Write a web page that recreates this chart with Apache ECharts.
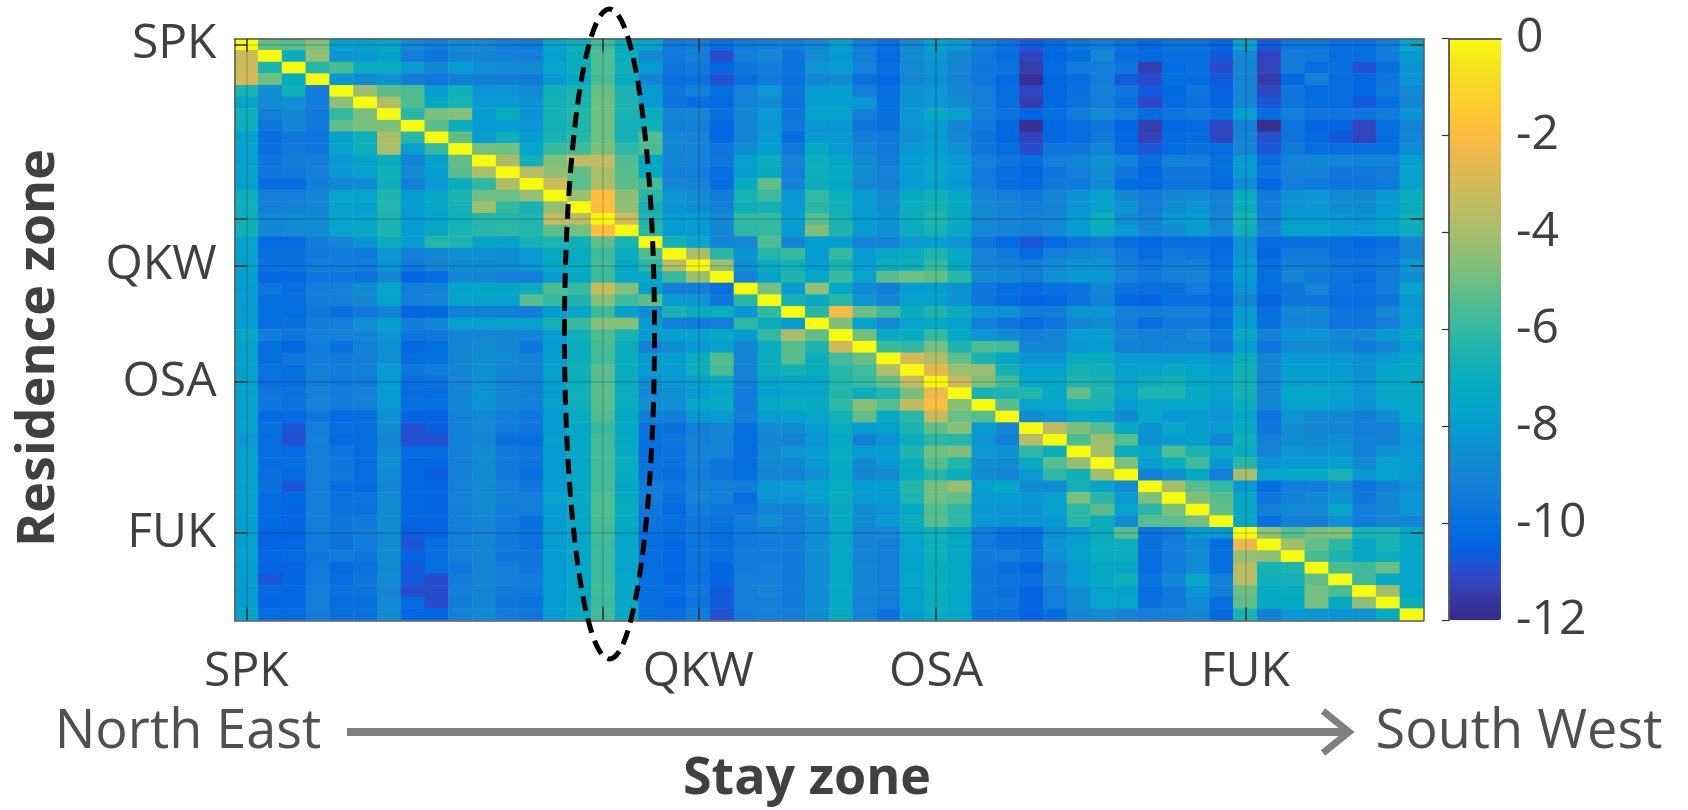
<!DOCTYPE html>
<html><head><meta charset="utf-8"><title>Residence zone vs stay zone</title>
<style>html,body{margin:0;padding:0;background:#fff}#c{width:1688px;height:810px}</style>
<script src="https://cdn.jsdelivr.net/npm/echarts@6/dist/echarts.min.js"></script></head><body><div id="c"></div><script>
const tickIndex=[0,15,19,29,42];
const tickLabels=['SPK','','QKW','OSA','FUK'];
const colorTicks=[-12,-10,-8,-6,-4,-2,0];
const r00=[0,-5.2,-5.3,-4.7,-7.8,-7.8,-7.5,-8.8,-9.4,-8.8,-8.9,-9.4,-9.5,-7.6,-6.9,-5.7,-7.2,-7.6,-9.5,-9.4,-10,-9.5,-9.3,-9.4,-9,-7.8,-9.4,-10,-8.8,-7.7,-8.1,-9.4,-9.9,-10.7,-10.2,-9.7,-9.4,-9.9,-10.3,-9.9,-9.9,-10.4,-7.7,-10.7,-9.6,-9.6,-10,-10,-9.4,-7.6];
const r01=[-3.2,0,-7.1,-4.4,-8.3,-8.2,-7.7,-9.4,-9.7,-9,-8.9,-9.2,-9.3,-7.8,-7,-5.5,-7,-8.8,-9.5,-9.2,-11,-9.2,-8.9,-9.7,-8.7,-8.2,-9.3,-10.2,-8.7,-8.2,-8.8,-9.5,-10.1,-11.2,-10.3,-10,-8.9,-10,-10.2,-10,-10,-10.7,-8.8,-11.2,-9.4,-9.5,-10,-10,-9.4,-8];
const r02=[-3.2,-6.5,0,-6.3,-5.6,-7.1,-7.1,-8.1,-8.9,-8,-8.5,-8.7,-8.7,-7.6,-7,-5.5,-6.8,-8,-9.7,-9.5,-10.3,-9.7,-9.4,-9.8,-8.3,-8,-9.1,-10,-8.8,-8.3,-9,-9.6,-9.8,-11.4,-10.2,-9.4,-9.3,-9.6,-11.4,-10.2,-10,-11,-8.9,-11.2,-9.4,-10.1,-9.9,-10.9,-9.9,-8.4];
const r03=[-2.9,-5,-7.2,0,-8.2,-8.7,-8.4,-9.3,-9.6,-9.2,-9.3,-9.4,-9.5,-8,-7.3,-5.6,-7.2,-9,-9.9,-9.8,-10.9,-9.9,-9.5,-9.9,-8.8,-8.7,-9.8,-10.3,-8.9,-8.5,-9.1,-9.6,-10.2,-11.8,-10.3,-10,-9.3,-10.7,-11,-10.1,-10.1,-10.7,-8.9,-11.5,-10.3,-9.2,-10,-10.3,-9.6,-8.3];
const r04=[-6.6,-8.6,-6.8,-9.4,0,-4.2,-5.3,-5.5,-8,-6.8,-8.3,-8.3,-8.7,-6.8,-6.6,-5.1,-6.5,-8,-9.6,-9.2,-10,-9.1,-8.1,-9.7,-8,-7.9,-9.3,-10,-8.4,-8.2,-8.9,-9.3,-10.1,-11.1,-10.3,-9.9,-9.2,-9.6,-10.7,-10.3,-9.7,-10.5,-8.9,-11.1,-9.6,-10.2,-10,-10.3,-9.5,-8.8];
const r05=[-7.5,-8.7,-8.5,-9.4,-4.5,0,-3.8,-5.5,-7.3,-6.6,-8.1,-8,-8.5,-6.7,-6.5,-5,-6.5,-8.1,-9.8,-10,-10.2,-9.1,-8.7,-9.8,-7.9,-7.9,-8.2,-10,-8.4,-8.2,-8.7,-9.3,-10,-11.4,-10.3,-9.8,-9.3,-9.9,-11.1,-10.2,-9.8,-10.5,-8.9,-10.8,-9.7,-10.1,-10,-10.7,-10,-8.9];
const r06=[-6.8,-9.2,-8.9,-9.5,-6,-4.8,0,-6.2,-4.8,-4.6,-8,-7,-8.4,-6.7,-6.3,-5,-6.6,-7,-9,-8.9,-9.9,-8.9,-8.1,-9.6,-7.7,-7.7,-9.2,-9.9,-8.2,-7.2,-7.8,-9.2,-9.8,-10.4,-10,-9.4,-8.7,-9.3,-10.1,-9.7,-9.5,-9.9,-7.8,-10.1,-9.3,-9.6,-9.7,-9.7,-9.4,-8.3];
const r07=[-6.9,-9.6,-8.9,-9.5,-5.2,-4.8,-4.8,0,-5.3,-7,-8.1,-8,-8.3,-6.7,-6.4,-5,-6.7,-6.8,-9.2,-9.2,-10.3,-9,-8.2,-9.5,-8.3,-8.2,-9.7,-9.9,-8.3,-7.9,-8.9,-9.5,-10.3,-11.8,-10.3,-10,-9.6,-10.4,-11.4,-10.3,-10.2,-11.1,-9.2,-11.9,-9.7,-10.4,-10.4,-11.2,-10.1,-9.1];
const r08=[-7.8,-9.9,-9.6,-9.6,-7.6,-6.9,-3.8,-6.2,0,-5.2,-7.9,-6.9,-8,-6.6,-6.2,-5,-6.7,-5.5,-8.8,-9.1,-10.3,-9,-8,-10,-8.1,-8.1,-9.3,-9.5,-8.5,-8,-8.8,-9.7,-10.3,-11.2,-10.3,-10,-9.5,-10.3,-11.3,-10.2,-10.1,-11.1,-9.1,-10.9,-9.7,-10.2,-10.7,-11.2,-10.1,-9];
const r09=[-7.8,-9.9,-9.5,-9.6,-7.7,-6.9,-3.9,-7.8,-6,0,-4.9,-5,-7.6,-5.9,-5.8,-4.8,-6.1,-5.6,-9,-9.1,-9.7,-8.6,-7.9,-9.5,-7.3,-8,-9.1,-9.5,-8.2,-7.9,-8.5,-9.6,-10.1,-11,-9.7,-9.6,-9,-10.2,-10.8,-10.2,-9.9,-10.1,-9,-10.8,-9.5,-10.1,-10.1,-10,-10,-8.6];
const r10=[-7.8,-9.6,-9.4,-9.3,-8.2,-7.7,-7,-9,-7.8,-5.2,0,-3.9,-6.8,-4.7,-3.4,-3.3,-5.5,-7.4,-9,-9.1,-9.6,-7.8,-7,-9.1,-6.9,-7.4,-8.7,-9.3,-8,-7.6,-8,-9.2,-9.7,-10,-9.2,-9.1,-8.4,-9.1,-10,-9.2,-9.3,-9.9,-7.9,-10,-9.1,-9,-9,-9.1,-9.1,-7.8];
const r11=[-7.8,-9.6,-9.5,-9.3,-8.2,-7.8,-6.8,-8.7,-7.9,-5.3,-3.9,0,-3.6,-4.4,-5.2,-3.9,-5.4,-7.2,-9.2,-9.3,-10,-8,-7.2,-9.2,-6.9,-7.3,-8.6,-9.1,-8,-7.6,-8.1,-9.4,-10,-10.3,-9.6,-9.3,-8.7,-9.6,-10.3,-9.6,-9.6,-10,-8.1,-9.8,-9.2,-9.2,-9.6,-9.5,-9.4,-7.7];
const r12=[-7.8,-10,-10,-9.4,-8.9,-8.6,-6.9,-9.2,-8.2,-7,-6.1,-3.8,0,-3.2,-5.3,-3.8,-5.3,-5.7,-9,-9.1,-10,-7.2,-5.2,-9,-7,-7.4,-8.9,-9.2,-8.1,-7.7,-8.2,-9.4,-10,-10.2,-9.5,-9.5,-8.7,-10,-10.2,-9.7,-9.7,-10.2,-8.6,-10.4,-9.4,-9.5,-9.7,-9.7,-9.5,-7.7];
const r13=[-6.9,-9.2,-9.2,-9,-7.6,-7.6,-6.4,-8,-7.5,-6.5,-5,-5,-4.3,0,-4.2,-1.9,-4.5,-6.2,-8.3,-8.6,-9.4,-6.6,-5.8,-8.2,-6,-6.9,-8,-8.7,-7.2,-6.8,-7.4,-9,-9.3,-9.5,-9,-8.4,-7.7,-8.9,-9.4,-8.9,-8.8,-9.2,-7.1,-9.5,-8.5,-8.3,-8.8,-8.9,-8.2,-7];
const r14=[-6.9,-9.2,-9.1,-8.9,-7.7,-7.7,-6.4,-8,-7.5,-6.7,-4.1,-6,-6.6,-4.4,0,-1.9,-4.4,-6.7,-8.4,-8.6,-9.2,-6.9,-6.7,-8.2,-6.2,-6.8,-8,-8.7,-7,-6.7,-7.2,-8.8,-9,-9.3,-9.1,-8.3,-7.7,-8.4,-9.3,-8.6,-8.3,-9.1,-7,-9.4,-8.3,-8.2,-8.6,-8.6,-8,-7];
const r15=[-6.9,-8.8,-8.6,-8.7,-7.7,-7.6,-6.5,-8,-7.6,-6.8,-6.3,-6.3,-6.4,-3.4,-3.5,-0.1,-3.2,-6.5,-8,-7.9,-8.8,-6,-6,-7.9,-5.4,-6.6,-8,-8.4,-7,-6.4,-7.2,-8.8,-9,-9.2,-9,-8,-6.9,-8.7,-9.2,-8.2,-7.9,-9,-6.6,-9.3,-8,-8,-8.2,-8.4,-7.8,-6.8];
const r16=[-6.8,-8.9,-8.7,-8.6,-7.6,-7.3,-6.5,-8,-7.4,-6.6,-6.2,-6.1,-6.3,-5.2,-4.9,-1.9,0,-6.2,-8,-8,-8.9,-6.1,-6,-8,-4.7,-6.4,-8,-8.5,-7,-6.6,-7.3,-8.8,-9,-9.2,-8.8,-8,-7.1,-8.1,-8.9,-8.7,-8,-8.8,-6.9,-9.1,-7.7,-7.8,-8,-8.1,-7.7,-7];
const r17=[-7.6,-10.2,-10.2,-9.4,-9,-8.3,-7,-8,-6.3,-6.5,-7.6,-7.7,-6.7,-6.5,-6.8,-5.2,-6.6,0,-6.7,-7.5,-9,-8.8,-5.5,-9,-7.9,-7.9,-9.1,-9.1,-8.1,-7.9,-8.3,-9.7,-10.2,-10.8,-10.2,-9.7,-9.4,-10,-10.3,-10,-10,-10.3,-8.5,-10.1,-10,-10,-10,-10.3,-9.9,-8.9];
const r18=[-7.8,-9.9,-9.9,-9.5,-9.4,-9.5,-8.2,-9.3,-8.9,-8.5,-8.5,-8.6,-8.1,-7.2,-7.1,-5.8,-7.1,-5.5,0,-3.9,-6.2,-8.4,-6.3,-5.9,-8,-6,-8,-7.3,-7.1,-6.5,-7.2,-9.1,-9.5,-10.2,-9.2,-9,-8.8,-9.5,-10.1,-9.5,-9.7,-10.2,-8.3,-10.4,-9.5,-9.5,-9.9,-9.9,-9.7,-8.9];
const r19=[-7.8,-9.8,-9.8,-9.4,-9.4,-9.4,-8.3,-9.5,-9,-8.6,-8.6,-8.6,-8.1,-7.3,-7.1,-5.7,-7.3,-6.2,-3.6,-0.1,-4.3,-8.5,-7.1,-6.8,-8,-6.6,-7.9,-7,-6.9,-6,-7.3,-9,-9.2,-9.3,-8.8,-8.4,-8.4,-9.3,-9.7,-9.3,-9.3,-10,-7.9,-10.1,-9.3,-9.3,-9.7,-9.7,-9.5,-8.2];
const r20=[-7.9,-10.3,-10.3,-9.6,-9.6,-9.8,-8.9,-10.4,-10.2,-8.9,-8.9,-9.3,-9.3,-8,-7.3,-5.8,-7.4,-7.3,-5.9,-4.2,0,-9.1,-7.7,-6.4,-7.4,-5.9,-7.6,-5.3,-5,-5.2,-6.2,-8.7,-8.9,-9.3,-8.5,-8.2,-8.2,-9.1,-9.5,-9.2,-9.1,-9.8,-8,-10.1,-9,-9.5,-9.7,-10.1,-9.4,-8.6];
const r21=[-8,-9.7,-10,-9.3,-9.2,-8.6,-7.5,-9.3,-9.1,-7.6,-7.4,-7.5,-7.1,-5.5,-5.9,-3.2,-4.7,-7.8,-9.3,-9.3,-9.9,0,-4.9,-8,-4.4,-7.4,-8.8,-9.3,-8,-7.9,-8.4,-9.6,-10,-10.2,-9.9,-9.8,-9,-9.8,-9.9,-9.9,-9.4,-10.1,-8.4,-10.1,-9.7,-9,-9.8,-9.8,-9.4,-7.6];
const r22=[-8,-10,-10.1,-9.4,-9.2,-8.9,-7.8,-9.3,-9,-7.8,-7.7,-7.7,-5.4,-6,-6.4,-4.6,-5.8,-5.3,-8,-8.2,-9.6,-6.2,0,-6.7,-7.2,-6.2,-8.2,-8.9,-7.8,-7.8,-8.4,-9.6,-10.2,-10.5,-10.3,-9.8,-9.2,-10.3,-10.5,-10,-10,-10.3,-8.9,-10.5,-9.7,-9.7,-10,-10,-9.7,-8.2];
const r23=[-8,-10,-10.1,-9.6,-9.9,-9.6,-9.1,-10.4,-10.2,-9.2,-9.2,-9.3,-9.3,-8,-7.5,-5.8,-7.8,-8.6,-6.6,-7.1,-7,-8.3,-6,0,-6.2,-2.2,-5,-5.8,-7,-6.4,-7,-8.3,-8.5,-9.4,-9.3,-8.3,-8.3,-9.2,-9.3,-9.2,-9.2,-9.8,-8,-10,-9,-8.8,-9.7,-9.7,-8.9,-8];
const r24=[-8,-10,-9.9,-9.4,-9.3,-8.5,-7.9,-9.4,-9,-7.8,-7.8,-7.8,-7.8,-6.7,-5.9,-4.6,-4.6,-8,-9.2,-9.4,-9.3,-6.1,-7,-8,0,-4.7,-7.7,-8.8,-7.6,-7.3,-7.8,-9.2,-9.6,-10.1,-9.6,-9,-8.6,-9.4,-10,-9.5,-9.5,-10,-8,-9.9,-9.1,-9,-9.7,-9.7,-9.3,-8.1];
const r25=[-7.3,-9.3,-9.6,-9.2,-9.1,-9,-8.3,-9.6,-9.6,-9,-8.9,-8.9,-8.9,-7.9,-6.9,-5.5,-6.6,-8,-7.8,-7.7,-7.3,-8,-6,-3.9,-5.2,0,-4.9,-7.2,-7.1,-6,-7.3,-8.3,-8.6,-9.3,-9,-8,-7.9,-8.9,-9.2,-9.2,-8.8,-9.5,-7.3,-9.2,-8.3,-8.2,-8.8,-8.8,-8.2,-7.4];
const r26=[-7.8,-10,-10.3,-9.4,-9.9,-9.2,-8.5,-10.3,-10,-9,-8.7,-8.9,-9.7,-8,-7,-5.6,-7,-9.2,-8.6,-8.2,-7.8,-9,-7.1,-5.4,-6.4,-3.1,0,-5.9,-6.1,-4.9,-6.5,-5.5,-5.7,-9,-8.9,-8.2,-8.1,-9.2,-9.2,-9.1,-9.1,-9.6,-7.9,-9.7,-8.8,-8.8,-8.9,-9.5,-9,-8];
const r27=[-7.8,-10,-9.6,-9.4,-9.5,-9.2,-8.5,-10,-10,-9,-8.6,-8.8,-9.1,-7.9,-7,-5.7,-7,-8,-7.9,-7,-5.5,-9,-7,-5.4,-7,-5.7,-5.1,0,-3,-3.7,-5.2,-6.6,-7.4,-8.3,-8.3,-7.1,-7.1,-8.1,-8.1,-8.1,-8,-8.4,-7,-9,-8.2,-8.2,-8.2,-8.5,-8,-7.4];
const r28=[-7.8,-9.8,-9.9,-9.3,-9.4,-9.2,-8.1,-9.6,-9.4,-9,-8.5,-9,-9,-7.8,-6.8,-5.3,-7,-8,-7.9,-6.9,-5.6,-9.1,-7,-6.7,-7,-6.2,-5.7,-3.7,0,-2.6,-4.2,-4.3,-6.7,-7.8,-7.8,-6.7,-6.8,-7.8,-7.7,-7.2,-7.6,-8,-6.8,-8.9,-7.9,-7.9,-8.1,-8.5,-7.7,-7.3];
const r29=[-7.8,-9.9,-10,-9.3,-9.5,-9.4,-8,-10,-9.9,-9,-8.5,-9.1,-9.2,-7.9,-6.9,-5.4,-7,-8.6,-8.2,-7.8,-7.3,-9.2,-7.6,-7.5,-7.5,-6.3,-6,-5.2,-3.4,-0.1,-3.2,-4.7,-5.7,-7.5,-7.4,-6.4,-6.6,-7.7,-6.9,-6.7,-7.4,-7.7,-6.7,-9,-7.8,-7.8,-7.8,-8.3,-7.5,-7.3];
const r30=[-7.8,-9.6,-9.8,-9.2,-9.4,-9.2,-8,-10,-10.1,-9,-8.4,-9,-9.2,-7.9,-6.8,-5.3,-7,-8.8,-8.5,-8,-7.5,-9.4,-7.7,-7.5,-7.5,-6.3,-7,-6.4,-4.8,-2.4,0,-6.6,-6.5,-6.4,-7.4,-5.2,-6.4,-7.5,-6.5,-6.5,-7.2,-7.7,-6.7,-8.9,-7.5,-7.5,-7.8,-8.3,-7.4,-7.3];
const r31=[-7.8,-9.6,-9.8,-9.1,-9.4,-9.2,-8.1,-10,-10.1,-9,-8.4,-9,-9.2,-7.8,-6.9,-5.4,-7,-8.5,-8.5,-7.5,-7.2,-9.4,-7.3,-7.1,-7.2,-6.1,-4.5,-5.4,-3.4,-1.9,-4.6,0,-5.3,-7.6,-7.6,-6.6,-6.6,-8,-7.5,-7.5,-7.6,-8.1,-7,-8.9,-7.8,-7.8,-7.9,-8.4,-7.6,-7.4];
const r32=[-7.8,-10.2,-10.2,-9.6,-10.2,-10,-8.4,-10.4,-10.5,-9.2,-8.8,-9.3,-9.6,-8,-7.1,-5.5,-7.2,-9.3,-9.3,-8.2,-8,-9.3,-8,-7.8,-7.6,-6.7,-5.2,-7.2,-6.2,-3.4,-5.1,-5.4,0,-8.7,-8.3,-7.5,-7.6,-8.8,-7.5,-8.2,-8,-8.3,-7.5,-9.8,-8.3,-8.8,-8.8,-9.3,-8.6,-7.5];
const r33=[-7.8,-9.9,-10.8,-9.3,-10,-10,-8.7,-10.9,-10.6,-9.2,-8.8,-9.4,-9.6,-8,-7.4,-5.9,-7.4,-9.8,-9.9,-9.3,-8.9,-10,-8.7,-8.7,-8,-7.1,-8,-7.8,-6.5,-5.2,-4.5,-8,-8.9,0,-3.5,-4.7,-5.4,-7.3,-8.4,-7.4,-8,-8.1,-7.2,-9.6,-8.7,-9,-9,-9.3,-9.2,-8.1];
const r34=[-8.2,-10.1,-10.9,-9.2,-10.2,-10,-8.9,-10.9,-10.9,-9.2,-8.9,-9.8,-9.9,-7.9,-7.4,-5.7,-7.3,-9.8,-9.6,-9.2,-9.1,-10.1,-8.9,-9.1,-8.3,-7.4,-9.2,-8.4,-7,-6.2,-6.3,-8.3,-9.3,-3.6,0,-5.6,-4.2,-5.4,-8.4,-8,-7.8,-8.9,-6.9,-9.2,-8.6,-8.8,-8.5,-9.2,-9.2,-8.3];
const r35=[-7.8,-10.1,-10.2,-9.3,-9.7,-10,-8.8,-10.2,-10.2,-9.2,-8.7,-9.5,-9.7,-8,-7.4,-5.7,-7.2,-9.9,-9.8,-9.1,-9.1,-10.1,-8.7,-8.3,-7.9,-7.1,-7.9,-7.9,-6.4,-5,-4.7,-8.1,-8.4,-6.1,-7,0,-4,-7,-7.5,-5.5,-6.5,-7.3,-7.1,-9.1,-8.3,-8.5,-8.4,-9.2,-8.4,-8];
const r36=[-7.8,-10.1,-10.1,-9.3,-9.6,-10,-8.4,-10.3,-10.4,-9.2,-8.7,-9.5,-9.7,-8,-7.4,-5.7,-7,-9.8,-9.8,-9.2,-9.6,-10,-8.8,-8.8,-8.1,-7.2,-8.8,-8.2,-7,-5.4,-6.3,-8.5,-8.7,-7.2,-5.4,-4.3,0,-4.8,-7.8,-7,-5.8,-8.2,-6.2,-8.4,-8,-8,-7.8,-8.8,-7.8,-8];
const r37=[-7.8,-10,-10.2,-9.3,-9.5,-10,-8.8,-10.3,-10.6,-9.2,-8.6,-9.5,-9.9,-8,-7.4,-5.7,-7.2,-9.8,-10,-9.3,-9.6,-10,-9,-9.1,-8.5,-7.4,-8.9,-8.8,-7.1,-6.3,-7,-8.7,-8.9,-8.1,-6.1,-6.8,-4.1,0,-9.2,-8.5,-7.3,-9.3,-3.9,-7.5,-7.4,-7.3,-6.6,-8.2,-7.8,-8.1];
const r38=[-7.8,-9.9,-10.8,-9.3,-9.9,-10.2,-8.9,-10.3,-10.4,-9.2,-8.7,-9.3,-9.6,-8,-7.4,-5.7,-7.4,-9.4,-9.7,-9.2,-9.3,-9.3,-8.2,-8.1,-7.7,-7.1,-8,-7.9,-6.3,-4.9,-4.2,-7.8,-7.3,-8.7,-8.6,-6.7,-7.6,-8.6,0,-4,-5.4,-6,-8.2,-10,-9.4,-9.4,-8.6,-9.7,-9.2,-8.5];
const r39=[-7.8,-10.2,-10.3,-9.2,-9.8,-9.7,-8.7,-10.3,-10.4,-9.1,-8.8,-9.2,-9.3,-7.6,-7.2,-5.5,-7.2,-9.3,-9.9,-9,-9.2,-10.1,-8.4,-8.3,-7.7,-7,-8,-8,-6.5,-5,-5.2,-8,-8,-8.2,-7.8,-4.8,-6.2,-8.1,-4.8,0,-4.7,-5.3,-7.4,-9.7,-9.2,-9,-8.4,-9.6,-8.9,-8.2];
const r40=[-7.8,-10.2,-10.4,-9.2,-9.8,-9.8,-8.6,-10.3,-10.4,-9.2,-8.7,-9.4,-9.2,-8,-7.4,-5.5,-7.1,-9.6,-10.2,-9.4,-9.6,-9.7,-9.1,-9.2,-8.5,-7.2,-8.6,-8.3,-7.2,-5.5,-6.1,-8.2,-8.3,-8.4,-7.8,-6.1,-5.3,-7.6,-6.2,-4.8,0,-5.2,-7.4,-9.2,-8.8,-8.8,-7.5,-9.3,-8.9,-8.3];
const r41=[-7.9,-10.2,-10.4,-9.3,-9.6,-9.5,-8.7,-10.4,-10.4,-9.2,-8.9,-9.4,-9.9,-8,-7.4,-5.6,-7.2,-9.7,-10,-9.6,-9.8,-9.4,-8.6,-9.2,-8.6,-7.3,-8.6,-8.1,-7,-5.4,-6.1,-8.2,-8.3,-8.3,-8.2,-6.2,-7,-8.7,-5.4,-5.3,-4.9,0,-7.4,-10,-9.2,-9.2,-8.5,-9.4,-8.9,-8.9];
const r42=[-7.8,-10.4,-10.4,-9.4,-9.6,-9.4,-8.7,-10.6,-10.4,-9.4,-9,-9.5,-9.8,-8,-7.5,-5.7,-7.4,-9.9,-10.1,-9.6,-10,-9.5,-9.3,-9.4,-8.6,-7.5,-9,-8.9,-7.5,-6.8,-7.4,-9.4,-9.9,-10,-8.6,-8,-7,-5.4,-9.8,-9.5,-8.2,-8.2,0,-4.4,-5.4,-4.8,-4.7,-6.6,-6.5,-7.4];
const r43=[-7.8,-10.4,-10.3,-9.4,-9.8,-9.4,-8.7,-10.8,-10.1,-9.2,-9,-9.5,-9.8,-8,-7.5,-5.8,-7.5,-10,-10.3,-9.6,-9.9,-9.5,-9.4,-9.4,-8.5,-7.4,-9,-9.2,-7.7,-6.9,-7.3,-9.5,-9.8,-9.9,-8.3,-7.8,-7,-7,-9.9,-9.3,-8.8,-10,-2.4,0,-4,-5.2,-6.1,-7.5,-6.6,-7.4];
const r44=[-7.8,-10.3,-10.2,-9.6,-9.4,-9.6,-8.7,-10.5,-10.1,-9.2,-9,-9.6,-9.6,-8,-7.5,-5.8,-7.5,-10,-10.3,-9.7,-9.9,-9.4,-9.4,-9.5,-8.6,-7.4,-9.1,-9.2,-7.7,-6.9,-7.4,-9.5,-9.3,-9.7,-8.5,-7.8,-7,-7,-10,-9.4,-8.6,-10,-4.3,-4.4,0,-5.6,-6.5,-7.5,-6.9,-7.5];
const r45=[-8,-10.4,-10.4,-9.5,-10.2,-9.8,-8.8,-10.7,-10.1,-9.6,-9,-9.3,-9.6,-8,-7.5,-5.8,-7.6,-10,-10.3,-9.7,-10.4,-9.4,-9.3,-9.5,-8.6,-7.4,-9,-9.2,-7.7,-7,-7.4,-9.6,-9.9,-10.4,-9.1,-8,-7.4,-7.4,-10.1,-9.4,-8.7,-10,-3.6,-6.6,-6.5,0,-5.6,-5.8,-5.1,-7.5];
const r46=[-8,-10.8,-10.4,-9.4,-10,-9.6,-8.7,-10.7,-11,-9.4,-8.9,-9.3,-9.4,-8,-7.5,-5.8,-7.5,-10,-10.4,-9.8,-10.4,-9.3,-9.3,-9.5,-8.6,-7.4,-9,-9.2,-7.6,-7,-7.4,-9.6,-9.7,-9.9,-8.9,-8,-7.4,-6.8,-9.8,-8.9,-7.4,-9.2,-3.6,-6.8,-6.7,-5.2,0,-5.8,-7.3,-7.5];
const r47=[-8.1,-10.2,-10.3,-9.3,-9.8,-9.7,-8.9,-11,-11,-9.3,-9,-9.5,-9.5,-8,-7.4,-5.7,-7.5,-10,-10.1,-9.5,-10.7,-9.3,-9.1,-9.5,-8.6,-7.3,-9,-9.2,-7.7,-7,-7.5,-9.6,-9.8,-10.5,-9.3,-8.6,-7.6,-7.7,-10,-9.5,-8.2,-9.2,-5,-7.2,-7.1,-4.9,-5.6,0,-4.1,-7.5];
const r48=[-8,-10.4,-10.3,-9.3,-10,-9.9,-8.8,-10.2,-11,-9.4,-9,-9.6,-9.8,-8,-7.4,-5.8,-7.4,-10,-10.4,-9.7,-10.7,-9.3,-9.3,-9.5,-8.6,-7.3,-9.1,-9.3,-7.7,-7,-7.5,-9.6,-9.6,-10.4,-9.3,-8.6,-7.6,-7.6,-9.9,-9.5,-8.8,-10,-5.2,-7.2,-7.2,-4.9,-7.2,-4.4,0,-7];
const r49=[-7.6,-10.1,-10.1,-9.4,-9.9,-9.8,-8.7,-10.3,-10.4,-9.2,-8.8,-9.4,-9.6,-7.9,-7.2,-5.7,-7.3,-9.9,-10,-9.4,-10.9,-9.4,-9.2,-9.3,-8.6,-7.2,-9.1,-9.8,-8,-7.1,-7.5,-9.8,-9.9,-10.5,-10,-9,-8.7,-9,-9.3,-9.2,-9,-10.2,-6.6,-9.2,-8.2,-8.2,-8.4,-8.4,-7.2,0];
const rows=[r00,r01,r02,r03,r04,r05,r06,r07,r08,r09,r10,r11,r12,r13,r14,r15,r16,r17,r18,r19,r20,r21,r22,r23,r24,r25,r26,r27,r28,r29,r30,r31,r32,r33,r34,r35,r36,r37,r38,r39,r40,r41,r42,r43,r44,r45,r46,r47,r48,r49];
const zones=rows.map((_,i)=>String(i));
const parula=[[.2081,.1663,.5292],[.2116,.1898,.5777],[.2123,.2138,.627],[.2081,.2386,.6771],[.1959,.2645,.7279],[.1707,.2919,.7792],[.1253,.3242,.8303],[.0591,.3598,.8683],[.0117,.3875,.882],[.006,.4086,.8828],[.0165,.4266,.8786],[.0329,.443,.872],[.0498,.4586,.8641],[.0629,.4737,.8554],[.0723,.4887,.8467],[.0779,.504,.8384],[.0793,.52,.8312],[.0749,.5375,.8263],[.0641,.557,.824],[.0488,.5772,.8228],[.0343,.5966,.8199],[.0265,.6137,.8135],[.0239,.6287,.8038],[.0231,.6418,.7913],[.0228,.6535,.7768],[.0267,.6642,.7607],[.0384,.6743,.7436],[.059,.6838,.7254],[.0843,.6928,.7062],[.1133,.7015,.6859],[.1453,.7098,.6646],[.1801,.7177,.6424],[.2178,.725,.6193],[.2586,.7317,.5954],[.3022,.7376,.5712],[.3482,.7424,.5473],[.3953,.7459,.5244],[.442,.7481,.5033],[.4871,.7491,.484],[.53,.7491,.4661],[.5709,.7485,.4494],[.6099,.7473,.4337],[.6473,.7456,.4188],[.6834,.7435,.4044],[.7184,.7411,.3905],[.7525,.7384,.3768],[.7858,.7356,.3633],[.8185,.7327,.3498],[.8507,.7299,.336],[.8824,.7274,.3217],[.9139,.7258,.3063],[.945,.7261,.2886],[.9739,.7314,.2666],[.9938,.7455,.2403],[.999,.7653,.2164],[.9955,.7861,.1967],[.988,.8066,.1794],[.9789,.8271,.1633],[.9697,.8481,.1475],[.9626,.8705,.1309],[.9589,.8949,.1132],[.9598,.9218,.0948],[.9661,.9514,.0755],[.9763,.9831,.0538]];
const colors=parula.map(c=>'rgb('+c.map(v=>Math.round(v*255)).join(',')+')');

const cells=[];
rows.forEach((row,r)=>row.forEach((v,c)=>cells.push([c,r,v])));

const isTick=i=>tickIndex.includes(i);
const labelOf=i=>{const k=tickIndex.indexOf(i);return k<0?'':tickLabels[k];};
const P={left:234.5,top:38.7,width:1189.2,height:581.6};
const B={left:1449,top:38.7,width:52,height:581.6};
const FRAME='#5a5a5a', INK='#404040';
const tickStyle={show:true,inside:true,length:13,alignWithLabel:true,interval:i=>isTick(i),lineStyle:{color:'#333',width:1.5}};
const gridLine={show:true,alignWithLabel:true,interval:i=>isTick(i),lineStyle:{color:'rgba(0,0,0,0.16)',width:1.5}};
const line={show:true,lineStyle:{color:FRAME,width:1.5}};
const labelFont={fontFamily:'Open Sans',fontSize:48,color:INK};

const chart=echarts.init(document.getElementById('c'),null,{renderer:'canvas'});
chart.setOption({
  animation:false,backgroundColor:'#fff',
  grid:[{...P},{...B}],
  xAxis:[
    {type:'category',gridIndex:0,data:zones,position:'bottom',z:5,axisLine:line,axisTick:tickStyle,splitLine:gridLine,
     axisLabel:{...labelFont,margin:28,interval:i=>isTick(i),formatter:(v)=>labelOf(+v)}},
    {type:'category',gridIndex:0,data:zones,position:'top',z:5,axisLine:line,axisTick:tickStyle,splitLine:{show:false},axisLabel:{show:false}},
    {type:'value',gridIndex:1,min:0,max:1,position:'bottom',z:6,axisLine:line,axisTick:{show:false},splitLine:{show:false},axisLabel:{show:false}},
    {type:'value',gridIndex:1,min:0,max:1,position:'top',z:6,axisLine:line,axisTick:{show:false},splitLine:{show:false},axisLabel:{show:false}}
  ],
  yAxis:[
    {type:'category',gridIndex:0,data:zones,inverse:true,position:'left',z:5,axisLine:line,axisTick:tickStyle,splitLine:gridLine,
     axisLabel:{...labelFont,margin:18,interval:i=>isTick(i),formatter:(v)=>labelOf(+v)}},
    {type:'category',gridIndex:0,data:zones,inverse:true,position:'right',z:5,axisLine:line,axisTick:tickStyle,splitLine:{show:false},axisLabel:{show:false}},
    {type:'value',gridIndex:1,min:colorTicks[0],max:colorTicks[colorTicks.length-1],interval:2,position:'right',z:6,axisLine:line,
     axisTick:{show:true,inside:true,length:7,lineStyle:{color:'#333',width:1.2}},splitLine:{show:false},
     axisLabel:{...labelFont,margin:15,formatter:v=>String(v)}},
    {type:'value',gridIndex:1,min:colorTicks[0],max:colorTicks[colorTicks.length-1],interval:2,position:'left',z:6,axisLine:line,axisTick:{show:false},splitLine:{show:false},axisLabel:{show:false}}
  ],
  visualMap:{type:'continuous',seriesIndex:0,min:colorTicks[0],max:colorTicks[colorTicks.length-1],inRange:{color:colors},
    left:B.left,top:B.top,itemWidth:B.width,itemHeight:B.height,padding:0,text:null,calculable:false,hoverLink:false,showLabel:false,borderWidth:0},
  tooltip:{show:false},
  series:[{type:'heatmap',xAxisIndex:0,yAxisIndex:0,data:cells,progressive:0,animation:false,silent:true,emphasis:{disabled:true},itemStyle:{borderWidth:0}}],
  graphic:[
    {type:'ellipse',z:100,shape:{cx:609.5,cy:334,rx:45,ry:325},style:{fill:'transparent',stroke:'#000',lineWidth:5,lineDash:[15,8]}},
    {type:'line',z:100,shape:{x1:347,y1:732,x2:1347,y2:732},style:{stroke:'#7f7f7f',lineWidth:8}},
    {type:'polyline',z:100,shape:{points:[[1323,711],[1349,732],[1323,753]]},style:{fill:'transparent',stroke:'#7f7f7f',lineWidth:7}},
    {type:'text',z:100,x:188,y:733,style:{text:'North East',fontFamily:'Open Sans',fontSize:54,fill:'#505050',align:'center',verticalAlign:'middle'}},
    {type:'text',z:100,x:1519,y:733,style:{text:'South West',fontFamily:'Open Sans',fontSize:54,fill:'#505050',align:'center',verticalAlign:'middle'}},
    {type:'text',z:100,x:807,y:779,style:{text:'Stay zone',fontFamily:'Open Sans',fontWeight:'bold',fontSize:52,fill:INK,align:'center',verticalAlign:'middle'}},
    {type:'text',z:100,x:39,y:348,rotation:Math.PI/2,style:{text:'Residence zone',fontFamily:'Open Sans',fontWeight:'bold',fontSize:52,fill:INK,align:'center',verticalAlign:'middle'}}
  ]
});
</script></body></html>
